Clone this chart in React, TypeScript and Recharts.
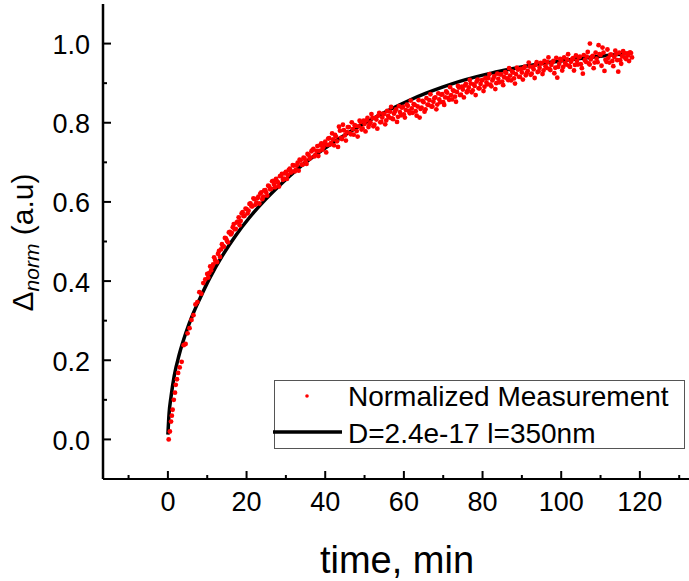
import React from "react";
import { ComposedChart, Scatter, Line, XAxis, YAxis } from "recharts";

const FONT = "'Liberation Sans', Arial, Helvetica, sans-serif";

const xTicks = [-10, 0, 10, 20, 30, 40, 50, 60, 70, 80, 90, 100, 110, 120, 130];
const yTicks = [0, 0.1, 0.2, 0.3, 0.4, 0.5, 0.6, 0.7, 0.8, 0.9, 1.0];

// fitted diffusion curve
const fitTime = [
  0, 0.3, 0.8, 1.6, 2.9, 4.6, 6.3, 8, 10.5, 13.9, 17.3, 20.7, 24.9, 28.3, 32.5,
  36.8, 41, 45.3, 49.5, 53.7, 57, 61, 65.5, 69.8, 74, 78.3, 82.5, 86.8, 91.5, 96,
  100.5, 105.4, 111, 117,
];
const fitValue = [
  0.012, 0.065, 0.108, 0.16, 0.215, 0.27, 0.315, 0.353, 0.405, 0.465, 0.516, 0.56,
  0.607, 0.641, 0.679, 0.713, 0.743, 0.771, 0.796, 0.819, 0.836, 0.855, 0.874, 0.89,
  0.904, 0.916, 0.926, 0.935, 0.944, 0.951, 0.957, 0.963, 0.969, 0.975,
];

// normalized measurement [time, value]
const measurement: [number, number][] = [
  [0.2, 0.0], [0.5, 0.02], [0.8, 0.045], [1.0, 0.06], [1.2, 0.075], [1.5, 0.1], [1.8, 0.118], [2.0, 0.138], [2.3, 0.152], [2.6, 0.168],
  [3.0, 0.182], [3.5, 0.196], [4.0, 0.238], [4.5, 0.241], [5.0, 0.268], [5.5, 0.281], [6.0, 0.302], [6.5, 0.314], [7.0, 0.341], [7.5, 0.347],
  [8.0, 0.372], [8.5, 0.368], [9.0, 0.395], [9.5, 0.404], [10.0, 0.418],
  [10.5, 0.42], [11, 0.427], [11.5, 0.442], [12, 0.453], [12.5, 0.448], [13, 0.476], [13.5, 0.48], [14, 0.488], [14.5, 0.509], [15, 0.502],
  [15.5, 0.523], [16, 0.518], [16.5, 0.536], [17, 0.531], [17.5, 0.548], [18, 0.561], [18.5, 0.552], [19, 0.574], [19.5, 0.565], [20, 0.582],
  [20.5, 0.578], [21, 0.596], [21.5, 0.589], [22, 0.607], [22.5, 0.598], [23, 0.613], [23.5, 0.621], [24, 0.607], [24.5, 0.629], [25, 0.624],
  [25.5, 0.641], [26, 0.632], [26.5, 0.652], [27, 0.644], [27.5, 0.658], [28, 0.649], [28.5, 0.665], [29, 0.671], [29.5, 0.659], [30, 0.676],
  [30.5, 0.668], [31, 0.684], [31.5, 0.677], [32, 0.692], [32.5, 0.681], [33, 0.699], [33.5, 0.707], [34, 0.694], [34.5, 0.712], [35, 0.703],
  [35.5, 0.721], [36, 0.709], [36.5, 0.728], [37, 0.734], [37.5, 0.719], [38, 0.741], [38.5, 0.729], [39, 0.748], [39.5, 0.738], [40, 0.752],
  [40.5, 0.744], [41, 0.761], [41.5, 0.749], [42, 0.758], [42.5, 0.769], [43, 0.753], [43.5, 0.79], [44, 0.762], [44.5, 0.795], [45, 0.768],
  [45.5, 0.776], [46, 0.789], [46.5, 0.771], [47, 0.784], [47.5, 0.794], [48, 0.779], [48.5, 0.791], [49, 0.802], [49.5, 0.786], [50, 0.797],
  [50.5, 0.806], [51, 0.789], [51.5, 0.801], [52, 0.812], [52.5, 0.795], [53, 0.808], [53.5, 0.818], [54, 0.801], [54.5, 0.813], [55, 0.822],
  [55.5, 0.806], [56, 0.817], [56.5, 0.828], [57, 0.811], [57.5, 0.823], [58, 0.834], [58.5, 0.815], [59, 0.827], [59.5, 0.838], [60, 0.821],
  [60.5, 0.832], [61, 0.843], [61.5, 0.824], [62, 0.836], [62.5, 0.847], [63, 0.829], [63.5, 0.841], [64, 0.813], [64.5, 0.838], [65, 0.852],
  [65.5, 0.834], [66, 0.846], [66.5, 0.857], [67, 0.841], [67.5, 0.853], [68, 0.864], [68.5, 0.846], [69, 0.859], [69.5, 0.871], [70, 0.852],
  [70.5, 0.864], [71, 0.876], [71.5, 0.858], [72, 0.87], [72.5, 0.882], [73, 0.866], [73.5, 0.878], [74, 0.889], [74.5, 0.871], [75, 0.884],
  [75.5, 0.894], [76, 0.877], [76.5, 0.889], [77, 0.899], [77.5, 0.882], [78, 0.893], [78.5, 0.904], [79, 0.887], [79.5, 0.898], [80, 0.908],
  [80.5, 0.891], [81, 0.902], [81.5, 0.913], [82, 0.896], [82.5, 0.907], [83, 0.918], [83.5, 0.9], [84, 0.911], [84.5, 0.922], [85, 0.904],
  [85.5, 0.915], [86, 0.926], [86.5, 0.908], [87, 0.919], [87.5, 0.93], [88, 0.912], [88.5, 0.923], [89, 0.934], [89.5, 0.916], [90, 0.927],
  [90.5, 0.938], [91, 0.92], [91.5, 0.931], [92, 0.942], [92.5, 0.924], [93, 0.935], [93.5, 0.946], [94, 0.928], [94.5, 0.939], [95, 0.95],
  [95.5, 0.932], [96, 0.943], [96.5, 0.953], [97, 0.936], [97.5, 0.946], [98, 0.956], [98.5, 0.939], [99, 0.914], [99.5, 0.949], [100, 0.958],
  [100.5, 0.941], [101, 0.951], [101.5, 0.96], [102, 0.944], [102.5, 0.954], [103, 0.963], [103.5, 0.946], [104, 0.956], [104.5, 0.965], [105, 0.948],
  [105.5, 0.924], [106, 0.958], [106.5, 0.967], [107, 0.95], [107.3, 1.0], [107.5, 0.96], [108, 0.969], [108.5, 0.952], [109, 0.962], [109.5, 0.996],
  [110, 0.971], [110.5, 0.99], [111, 0.931], [111.5, 0.954], [112, 0.964], [112.5, 0.972], [113, 0.956], [113.5, 0.966], [114, 0.974], [114.5, 0.929],
  [115, 0.958], [115.5, 0.968], [116, 0.976], [116.5, 0.961], [117, 0.97], [117.5, 0.978], [118, 0.965],
];

// interleaved samples between the ones above
const measurementMid: [number, number][] = [
  [10.25, 0.409], [10.75, 0.437], [11.25, 0.436], [11.75, 0.46], [12.25, 0.449], [12.75, 0.469], [13.25, 0.461], [13.75, 0.493], [14.25, 0.487], [14.75, 0.508],
  [15.25, 0.498], [15.75, 0.524], [16.25, 0.522], [16.75, 0.544], [17.25, 0.532], [17.75, 0.55], [18.25, 0.541], [18.75, 0.571], [19.25, 0.564], [19.75, 0.583],
  [20.25, 0.571], [20.75, 0.595], [21.25, 0.589], [21.75, 0.609], [22.25, 0.593], [22.75, 0.609], [23.25, 0.596], [23.75, 0.624], [24.25, 0.613], [24.75, 0.63],
  [25.25, 0.616], [25.75, 0.639], [26.25, 0.633], [26.75, 0.653], [27.25, 0.637], [27.75, 0.652], [28.25, 0.639], [28.75, 0.666], [29.25, 0.656], [29.75, 0.672],
  [30.25, 0.658], [30.75, 0.681], [31.25, 0.674], [31.75, 0.693], [32.25, 0.677], [32.75, 0.692], [33.25, 0.679], [33.75, 0.705], [34.25, 0.694], [34.75, 0.71],
  [35.25, 0.696], [35.75, 0.719], [36.25, 0.712], [36.75, 0.731], [37.25, 0.715], [37.75, 0.729], [38.25, 0.716], [38.75, 0.743], [39.25, 0.732], [39.75, 0.747],
  [40.25, 0.725], [40.75, 0.76], [41.25, 0.745], [41.75, 0.773], [42.25, 0.743], [42.75, 0.765], [43.25, 0.739], [43.75, 0.78], [44.25, 0.759], [44.75, 0.781],
  [45.25, 0.755], [45.75, 0.789], [46.25, 0.774], [46.75, 0.801], [47.25, 0.77], [47.75, 0.792], [48.25, 0.765], [48.75, 0.805], [49.25, 0.783], [49.75, 0.805],
  [50.25, 0.778], [50.75, 0.812], [51.25, 0.796], [51.75, 0.822], [52.25, 0.791], [52.75, 0.812], [53.25, 0.785], [53.75, 0.825], [54.25, 0.802], [54.75, 0.823],
  [55.25, 0.796], [55.75, 0.83], [56.25, 0.813], [56.75, 0.84], [57.25, 0.809], [57.75, 0.829], [58.25, 0.802], [58.75, 0.842], [59.25, 0.819], [59.75, 0.84],
  [60.25, 0.813], [60.75, 0.846], [61.25, 0.83], [61.75, 0.856], [62.25, 0.825], [62.75, 0.845], [63.25, 0.818], [63.75, 0.857], [64.25, 0.835], [64.75, 0.855],
  [65.25, 0.828], [65.75, 0.862], [66.25, 0.845], [66.75, 0.872], [67.25, 0.841], [67.75, 0.862], [68.25, 0.834], [68.75, 0.874], [69.25, 0.852], [69.75, 0.872],
  [70.25, 0.845], [70.75, 0.879], [71.25, 0.863], [71.75, 0.89], [72.25, 0.859], [72.75, 0.88], [73.25, 0.853], [73.75, 0.893], [74.25, 0.87], [74.75, 0.891],
  [75.25, 0.864], [75.75, 0.898], [76.25, 0.881], [76.75, 0.908], [77.25, 0.877], [77.75, 0.897], [78.25, 0.87], [78.75, 0.909], [79.25, 0.887], [79.75, 0.907],
  [80.25, 0.88], [80.75, 0.913], [81.25, 0.897], [81.75, 0.923], [82.25, 0.892], [82.75, 0.912], [83.25, 0.885], [83.75, 0.924], [84.25, 0.902], [84.75, 0.922],
  [85.25, 0.895], [85.75, 0.928], [86.25, 0.912], [86.75, 0.938], [87.25, 0.907], [87.75, 0.927], [88.25, 0.899], [88.75, 0.939], [89.25, 0.916], [89.75, 0.936],
  [90.25, 0.909], [90.75, 0.942], [91.25, 0.926], [91.75, 0.952], [92.25, 0.921], [92.75, 0.941], [93.25, 0.913], [93.75, 0.953], [94.25, 0.93], [94.75, 0.951],
  [95.25, 0.923], [95.75, 0.956], [96.25, 0.939], [96.75, 0.965], [97.25, 0.933], [97.75, 0.953], [98.25, 0.925], [98.75, 0.964], [99.25, 0.941], [99.75, 0.961],
  [100.25, 0.932], [100.75, 0.965], [101.25, 0.947], [101.75, 0.973], [102.25, 0.941], [102.75, 0.96], [103.25, 0.932], [103.75, 0.97], [104.25, 0.947], [104.75, 0.967],
  [105.25, 0.938], [105.75, 0.971], [106.25, 0.954], [106.75, 0.979], [107.25, 0.947], [107.75, 0.966], [108.25, 0.938], [108.75, 0.977], [109.25, 0.953], [109.75, 0.973],
  [110.25, 0.944], [110.75, 0.977], [111.25, 0.959], [111.75, 0.985], [112.25, 0.952], [112.75, 0.972], [113.25, 0.943], [113.75, 0.982], [114.25, 0.958], [114.75, 0.977],
  [115.25, 0.949], [115.75, 0.981], [116.25, 0.964], [116.75, 0.975], [117.25, 0.956], [117.75, 0.976],
];

const measData = [...measurement, ...measurementMid].map(([x, y]) => ({ x, y }));
const fitData = fitTime.map((x, i) => ({ x, y: fitValue[i] }));

const XTick = (props: any) => {
  const { x, y, payload } = props;
  const v = payload.value;
  const major = v % 20 === 0;
  return (
    <g>
      <line x1={x} x2={x} y1={y} y2={y - (major ? 8 : 4)} stroke="#000" strokeWidth={2} />
      {major && (
        <text x={x} y={y + 32} textAnchor="middle" fontSize={27} fontFamily={FONT} fill="#000">
          {v}
        </text>
      )}
    </g>
  );
};

const YTick = (props: any) => {
  const { x, y, payload } = props;
  const v = payload.value;
  const major = Math.round(v * 10) % 2 === 0;
  return (
    <g>
      <line x1={x} x2={x + (major ? 8 : 4)} y1={y} y2={y} stroke="#000" strokeWidth={2} />
      {major && (
        <text x={x - 13} y={y + 10.5} textAnchor="end" fontSize={27} fontFamily={FONT} fill="#000">
          {v.toFixed(1)}
        </text>
      )}
    </g>
  );
};

const XTitle = (props: any) => {
  const { viewBox } = props;
  return (
    <text
      x={viewBox.x + viewBox.width / 2}
      y={viewBox.y + 94}
      textAnchor="middle"
      fontSize={38}
      fontFamily={FONT}
      fill="#000"
    >
      time, min
    </text>
  );
};

const YTitle = (props: any) => {
  const { viewBox } = props;
  const cx = 33;
  const cy = viewBox.y + viewBox.height / 2 + 1;
  return (
    <text
      x={cx}
      y={cy}
      transform={`rotate(-90, ${cx}, ${cy})`}
      textAnchor="middle"
      fontSize={30}
      fontFamily={FONT}
      fill="#000"
    >
      <tspan>Δ</tspan>
      <tspan fontSize={21} fontStyle="italic" dy={6}>
        norm
      </tspan>
      <tspan dy={-6}> (a.u)</tspan>
    </text>
  );
};

const Dot = (props: any) => <circle cx={props.cx} cy={props.cy} r={2.4} fill="#ff0000" />;

const LegendBox = () => (
  <svg
    width={689}
    height={581}
    style={{ position: "absolute", left: 0, top: 0, pointerEvents: "none" }}
  >
    <rect x={274.5} y={380.5} width={410} height={68} fill="#fff" stroke="#555" strokeWidth={1} />
    <circle cx={307} cy={396} r={1.8} fill="#ff0000" />
    <text x={348} y={406} fontSize={28} fontFamily={FONT} fill="#000">
      Normalized Measurement
    </text>
    <line x1={273} x2={342} y1={432} y2={432} stroke="#000" strokeWidth={3.5} />
    <text x={348} y={443} fontSize={28} fontFamily={FONT} fill="#000">
      D=2.4e-17 l=350nm
    </text>
  </svg>
);

export default function App() {
  return (
    <div
      style={{
        position: "absolute",
        left: 0,
        top: 0,
        width: 689,
        height: 581,
        overflow: "hidden",
        background: "#fff",
      }}
    >
      <ComposedChart width={720} height={581} margin={{ top: 4, right: 29, bottom: 0, left: 0 }}>
        <XAxis
          xAxisId="top"
          orientation="top"
          type="number"
          dataKey="x"
          domain={[-16.5, 133]}
          allowDataOverflow
          height={0}
          tick={false}
          tickLine={false}
          axisLine={{ stroke: "#000", strokeWidth: 2 }}
        />
        <XAxis
          type="number"
          dataKey="x"
          domain={[-16.5, 133]}
          allowDataOverflow
          ticks={xTicks}
          interval={0}
          height={102}
          tickSize={0}
          tickMargin={0}
          tick={XTick}
          axisLine={{ stroke: "#000", strokeWidth: 2 }}
          label={{ content: XTitle }}
        />
        <YAxis
          type="number"
          dataKey="y"
          domain={[-0.1, 1.1]}
          allowDataOverflow
          ticks={yTicks}
          interval={0}
          width={103}
          tickSize={0}
          tickMargin={0}
          tick={YTick}
          axisLine={{ stroke: "#000", strokeWidth: 2.5 }}
          label={{ content: YTitle }}
        />
        <Scatter data={measData} dataKey="y" shape={Dot} isAnimationActive={false} />
        <Line
          data={fitData}
          dataKey="y"
          type="monotone"
          stroke="#000"
          strokeWidth={3.5}
          dot={false}
          activeDot={false}
          isAnimationActive={false}
        />
      </ComposedChart>
      <LegendBox />
    </div>
  );
}
